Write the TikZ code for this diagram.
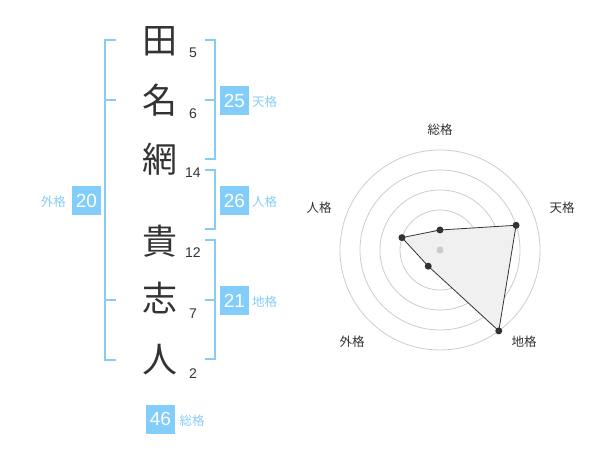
\documentclass[tikz,border=0pt]{standalone}
\usepackage{fontspec}
\setmainfont{Liberation Sans}
\newfontfamily\jp{Noto Sans CJK JP}
\definecolor{brk}{HTML}{88CCF6}
\definecolor{boxc}{HTML}{82CDFA}
\definecolor{txt}{HTML}{333333}
\definecolor{ring}{HTML}{CCCCCC}
\definecolor{polyfill}{HTML}{F0F0F0}
\tikzset{
  kanji/.style={anchor=base, inner sep=0pt, text=txt, font=\jp\fontsize{35}{35}\selectfont},
  strokes/.style={anchor=base, inner sep=0pt, text=txt, font=\fontsize{14}{14}\selectfont},
  valbox/.style={fill=boxc, text=white, minimum width=29pt, minimum height=29pt, inner sep=0pt, font=\fontsize{19}{19}\selectfont},
  kaku/.style={inner sep=0pt, text=brk, font=\jp\fontsize{12.5}{12.5}\selectfont},
  bracket/.style={draw=brk, line width=2pt},
  radarlbl/.style={inner sep=0pt, text=txt, font=\jp\fontsize{12.5}{12.5}\selectfont},
  ringline/.style={draw=ring, line width=0.8pt},
  dot/.style={circle, fill=txt, inner sep=0pt, minimum size=7pt},
}
\begin{document}
\begin{tikzpicture}[x=1pt,y=-1pt]
\useasboundingbox (0,0) rectangle (600,470);
% kanji
\node[kanji] (k1) at (160,54) {田};
\node[kanji] (k2) at (160,114) {名};
\node[kanji] (k3) at (160,173) {網};
\node[kanji] (k4) at (160,254.5) {貴};
\node[kanji] (k5) at (160,312) {志};
\node[kanji] (k6) at (160,373) {人};
% strokes
\node[strokes] (s1) at (193,57.3) {5};
\node[strokes] (s2) at (193,118.3) {6};
\node[strokes] (s3) at (193,177.7) {14};
\node[strokes] (s4) at (193,257.3) {12};
\node[strokes] (s5) at (193,318.3) {7};
\node[strokes] (s6) at (193,378.3) {2};
% brackets
\draw[bracket] (116,40) -- (105,40) -- (105,360) -- (116,360);
\draw[bracket] (105,100) -- (116,100);
\draw[bracket] (105,300) -- (116,300);
\draw[bracket] (205,40) -- (214.5,40) -- (214.5,159.5) -- (205,159.5);
\draw[bracket] (205,100) -- (214.5,100);
\draw[bracket] (205,170) -- (214.5,170) -- (214.5,229.5) -- (205,229.5);
\draw[bracket] (205,240) -- (214.5,240) -- (214.5,359.5) -- (205,359.5);
\draw[bracket] (205,300) -- (214.5,300);
% value boxes
\node[valbox] (ten) at (234.5,100.5) {25};
\node[kaku, anchor=west] (tenl) at (252,101.5) {天格};
\node[valbox] (jin) at (234.5,200.5) {26};
\node[kaku, anchor=west] (jinl) at (252,201.5) {人格};
\node[valbox] (chi) at (234.5,300.5) {21};
\node[kaku, anchor=west] (chil) at (252,301.5) {地格};
\node[valbox] (gai) at (86.5,200.5) {20};
\node[kaku, anchor=east] (gail) at (66,201.5) {外格};
\node[valbox] (sou) at (160.5,419) {46};
\node[kaku, anchor=west] (soul) at (179.5,420.5) {総格};
% radar
\coordinate (c) at (440,250);
\foreach \r in {20,40,60,80,100} \draw[ringline] (c) circle[radius=\r];
\path (c) ++(0,-20) coordinate (p1);
\path (c) ++(76.08,-24.72) coordinate (p2);
\path (c) ++(58.78,80.90) coordinate (p3);
\path (c) ++(-11.76,16.18) coordinate (p4);
\path (c) ++(-38.04,-12.36) coordinate (p5);
\draw[fill=polyfill, draw=txt, line width=0.8pt] (p1) -- (p2) -- (p3) -- (p4) -- (p5) -- cycle;
\node[circle, fill=ring, inner sep=0pt, minimum size=7pt] (cd) at (c) {};
\foreach \p in {p1,p2,p3,p4,p5} \node[dot] (d\p) at (\p) {};
\node[radarlbl] (rl1) at (440,130) {総格};
\node[radarlbl] (rl2) at (562,208) {天格};
\node[radarlbl] (rl3) at (524,342) {地格};
\node[radarlbl] (rl4) at (352,342) {外格};
\node[radarlbl] (rl5) at (319,208) {人格};
\end{tikzpicture}
\end{document}
